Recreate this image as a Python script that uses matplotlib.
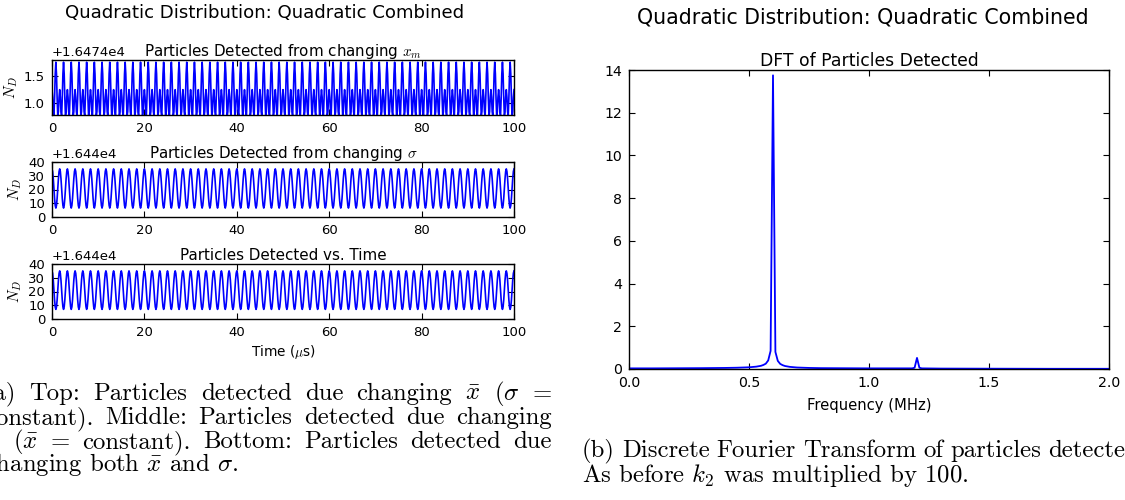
import numpy as np
import matplotlib.pyplot as plt

plt.rcParams['font.family'] = 'DejaVu Sans'
plt.rcParams['mathtext.fontset'] = 'cm'

W, H = 1125, 500

# --- time signals (one cycle, every 30 deg) ---
n_cycles = 60          # 0.6 MHz over 100 us
t_end = 100
xm_offset = 16474
sd_offset = 16440
xm_cycle = [1.25, 1.11, 0.84, 0.76, 1.09, 1.54, 1.76, 1.54, 1.09, 0.76, 0.84, 1.11]
sigma_cycle = [35.0, 33.1, 27.9, 20.8, 13.6, 8.4, 6.5, 8.4, 13.6, 20.8, 27.9, 33.1]
both_cycle = [35.0, 33.2, 28.2, 21.0, 13.9, 8.8, 7.0, 8.8, 13.9, 21.0, 28.2, 33.2]

panel_titles = [r"Particles Detected from changing $x_m$",
                r"Particles Detected from changing $\sigma$",
                "Particles Detected vs. Time"]
xticks_t = [0, 20, 40, 60, 80, 100]

# --- DFT (MHz, magnitude) ---
freq = [0.00, 0.10, 0.20, 0.30, 0.40, 0.45, 0.50, 0.53, 0.55, 0.56, 0.57, 0.58,
        0.59, 0.60, 0.61, 0.62, 0.63, 0.64, 0.65, 0.67, 0.70, 0.75, 0.80, 0.90,
        1.00, 1.10, 1.18, 1.19, 1.20, 1.21, 1.22, 1.30, 1.50, 1.75, 2.00]
dft = [0.03, 0.03, 0.035, 0.04, 0.05, 0.06, 0.08, 0.11, 0.15, 0.19, 0.25, 0.40,
       0.85, 13.75, 0.80, 0.38, 0.24, 0.18, 0.14, 0.10, 0.07, 0.05, 0.04, 0.035,
       0.03, 0.03, 0.03, 0.06, 0.52, 0.06, 0.03, 0.02, 0.015, 0.01, 0.01]

cap_a = [["(a)", "Top:", "Particles", "detected", "due", "changing", r"$\bar{x}$", r"($\sigma$", "="],
         ["constant).", "Middle:", "Particles", "detected", "due", "changing"],
         [r"$\sigma$", r"($\bar{x}$", "=", "constant).", "Bottom:", "Particles", "detected", "due"]]
cap_a_last = r"changing both $\bar{x}$ and $\sigma$."
cap_b_first = ["(b)", "Discrete", "Fourier", "Transform", "of", "particles", "detected."]
cap_b_last = r"As before $k_2$ was multiplied by 100."


def px_box(l, t, r, b):
    return [l / W, 1 - b / H, (r - l) / W, (b - t) / H]


def style(ax, size=9.5):
    ax.tick_params(direction='in', top=True, right=True, length=4,
                   labelsize=size, pad=5)
    for s in ax.spines.values():
        s.set_linewidth(1.0)


fig = plt.figure(figsize=(W / 100, H / 100), dpi=100, facecolor='white')

# left figure
fig.text(265 / W, 1 - 13 / H, "Quadratic Distribution: Quadratic Combined",
         ha='center', va='center', fontsize=13.1)

series = [(xm_cycle, xm_offset), (sigma_cycle, sd_offset), (both_cycle, sd_offset)]
tops = [60, 162, 264]
for i, ((cyc, off), top) in enumerate(zip(series, tops)):
    ax = fig.add_axes(px_box(52, top, 514, top + 55))
    y = off + np.append(np.tile(cyc, n_cycles), cyc[0])
    t = np.linspace(0, t_end, len(y))
    ax.plot(t, y, color='b', lw=1.2)
    ax.set_xlim(0, 100)
    ax.set_xticks(xticks_t)
    if i == 0:
        ax.set_ylim(off + 0.78, off + 1.8)
        ax.set_yticks([off + 1.0, off + 1.5])
    else:
        ax.set_ylim(off, off + 40)
        ax.set_yticks([off + v for v in [0, 10, 20, 30, 40]])
    ax.yaxis.get_major_formatter().set_useOffset(off)
    ax.yaxis.get_offset_text().set_fontsize(9.5)
    ax.set_ylabel(r"$N_D$", fontsize=11, labelpad=3)
    ax.set_title(panel_titles[i], fontsize=10.9, pad=3)
    style(ax)
    if i == 2:
        ax.set_xlabel(r"Time ($\mu$s)", fontsize=9.8, labelpad=3)

# right figure
fig.text(863 / W, 1 - 18 / H, "Quadratic Distribution: Quadratic Combined",
         ha='center', va='center', fontsize=14.8)
ax2 = fig.add_axes(px_box(629, 70, 1109, 369))
ax2.plot(freq, dft, color='b', lw=1.3)
ax2.set_xlim(0, 2.0)
ax2.set_ylim(0, 14)
ax2.set_xticks([0.0, 0.5, 1.0, 1.5, 2.0])
ax2.set_yticks([0, 2, 4, 6, 8, 10, 12, 14])
ax2.set_title("DFT of Particles Detected", fontsize=12.4, pad=3)
ax2.set_xlabel("Frequency (MHz)", fontsize=10.6, labelpad=6)
style(ax2, 10.2)

# captions (LaTeX-like justified lines)
cap_kw = dict(fontsize=17.8, family='cmr10', va='baseline')
base_y = [400, 424, 448, 471]
lines = [(cap_a[k], base_y[k], -15, 552) for k in range(3)]
lines.append((cap_b_first, 457, 582, 1146))
placed = [([fig.text(0, 1 - yb / H, w, **cap_kw) for w in ws], x0, x1)
          for ws, yb, x0, x1 in lines]
fig.canvas.draw()
r = fig.canvas.get_renderer()
for texts, x0, x1 in placed:
    widths = [tx.get_window_extent(r).width for tx in texts]
    gap = (x1 - x0 - sum(widths)) / (len(texts) - 1)
    x = x0
    for tx, w in zip(texts, widths):
        tx.set_x(x / W)
        x += w + gap
fig.text(-15 / W, 1 - base_y[3] / H, cap_a_last, **cap_kw)
fig.text(582 / W, 1 - 482 / H, cap_b_last, **cap_kw)

fig.savefig("out.png", dpi=100, facecolor='white')
